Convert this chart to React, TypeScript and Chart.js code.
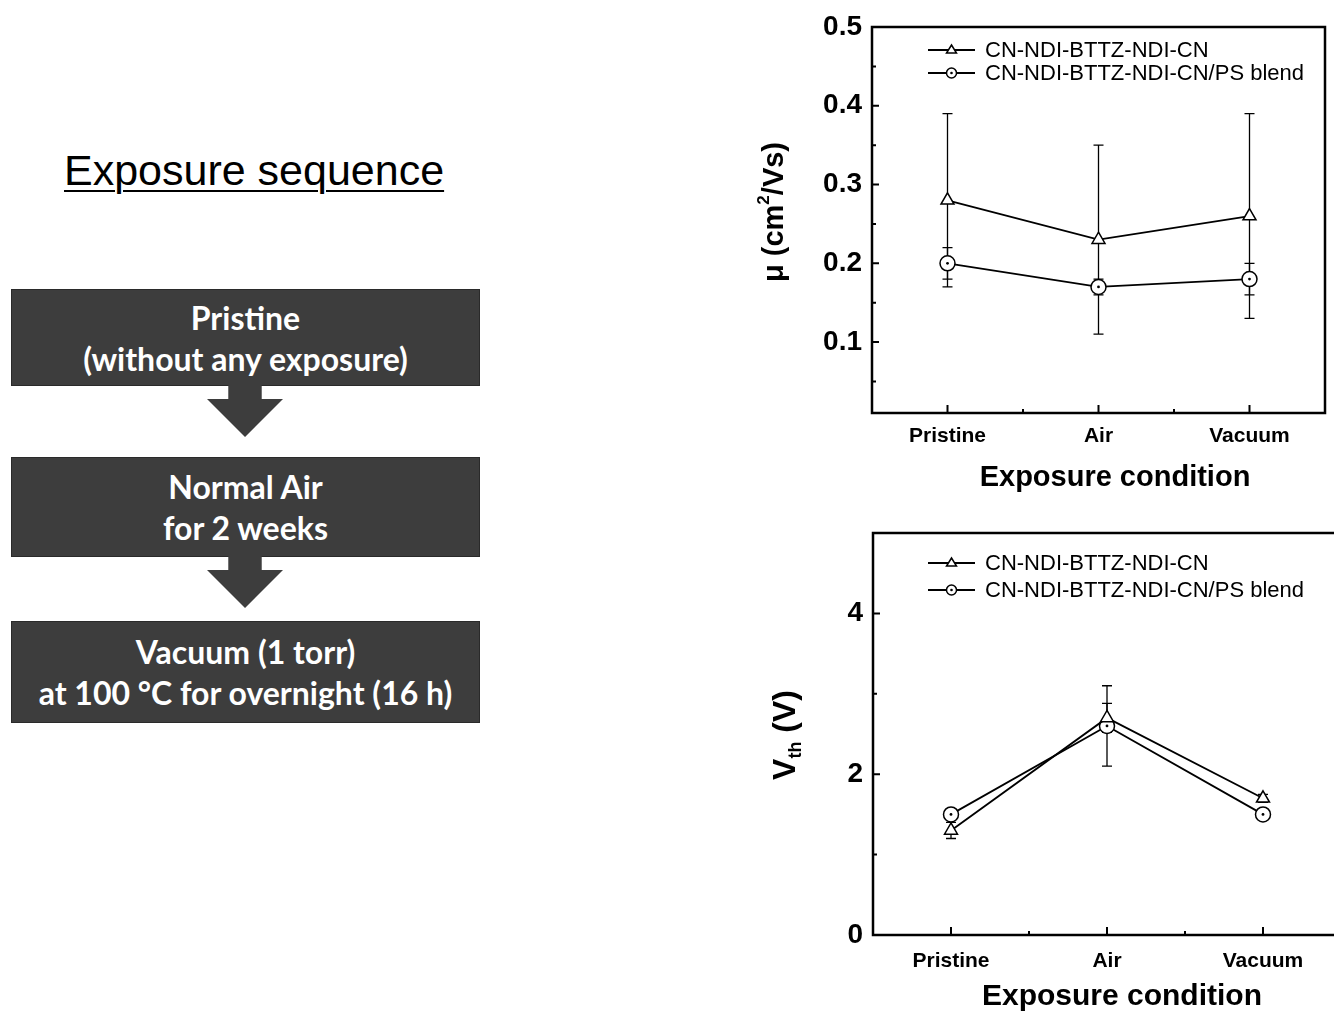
import React, { useEffect, useRef } from "react";
import { Chart, registerables } from "chart.js";
Chart.register(...registerables);

// ---------------- data ----------------
const categories = ["Pristine", "Air", "Vacuum"];
const seriesNames = ["CN-NDI-BTTZ-NDI-CN", "CN-NDI-BTTZ-NDI-CN/PS blend"];

const mobilityNeat = [0.28, 0.23, 0.26];
const mobilityNeatErr = [0.11, 0.12, 0.13];
const mobilityBlend = [0.2, 0.17, 0.18];
const mobilityBlendErr = [0.02, 0.01, 0.02];

const vthNeat = [1.3, 2.7, 1.7];
const vthNeatErr = [0.1, 0.18, 0.05];
const vthBlend = [1.5, 2.6, 1.5];
const vthBlendErr = [0.05, 0.5, 0.05];

const mobilityTicks = [0.1, 0.2, 0.3, 0.4, 0.5];
const mobilityMinorTicks = [0.05, 0.15, 0.25, 0.35, 0.45];
const vthTicks = [0, 2, 4];
const vthMinorTicks = [1, 3, 5];
const xMinorTicks = [0.5, 1.5];

const FONT = "'Liberation Sans', Arial, sans-serif";

type Run = { text: string; size: number; dy?: number };

function drawRuns(ctx: CanvasRenderingContext2D, runs: Run[], cx: number, cy: number, rotate: boolean) {
  ctx.save();
  ctx.translate(cx, cy);
  if (rotate) ctx.rotate(-Math.PI / 2);
  let total = 0;
  const widths = runs.map((r) => {
    ctx.font = `bold ${r.size}px ${FONT}`;
    const w = ctx.measureText(r.text).width;
    total += w;
    return w;
  });
  let x = -total / 2;
  ctx.fillStyle = "#000";
  ctx.textBaseline = "middle";
  ctx.textAlign = "left";
  runs.forEach((r, i) => {
    ctx.font = `bold ${r.size}px ${FONT}`;
    ctx.fillText(r.text, x, r.dy || 0);
    x += widths[i];
  });
  ctx.restore();
}

function drawMarker(ctx: CanvasRenderingContext2D, kind: string, x: number, y: number, r: number) {
  ctx.save();
  ctx.fillStyle = "#fff";
  ctx.strokeStyle = "#000";
  ctx.lineWidth = 1.5;
  ctx.beginPath();
  if (kind === "triangle") {
    const half = r * Math.sqrt(3) / 2;
    ctx.moveTo(x, y - r);
    ctx.lineTo(x + half * 1.15, y + r * 0.6);
    ctx.lineTo(x - half * 1.15, y + r * 0.6);
    ctx.closePath();
  } else {
    ctx.arc(x, y, r, 0, Math.PI * 2);
  }
  ctx.fill();
  ctx.stroke();
  if (kind === "circle") {
    ctx.fillStyle = "#000";
    ctx.beginPath();
    ctx.arc(x, y, 1.3, 0, Math.PI * 2);
    ctx.fill();
  }
  ctx.restore();
}

type PanelCfg = {
  width: number;
  height: number;
  padTop: number;
  padRight: number;
  yWidth: number;
  xHeight: number;
  yMin: number;
  yMax: number;
  yTicks: number[];
  yMinor: number[];
  yDecimals: number;
  neat: number[];
  neatErr: number[];
  blend: number[];
  blendErr: number[];
  yTitle: Run[];
  yTitleX: number;
  yTitleY: number;
  xTitleX: number;
  xTitleDy: number;
  xTitleSize: number;
  legendDy: number[];
  legendDx: number;
  tickFont: number;
  xTickPad: number;
};

function makeChart(canvas: HTMLCanvasElement, cfg: PanelCfg) {
  const decor = {
    id: "decor",
    beforeDatasetsDraw(chart: any) {
      const ctx: CanvasRenderingContext2D = chart.ctx;
      const xs = chart.scales.x;
      const ys = chart.scales.y;
      ctx.save();
      ctx.strokeStyle = "#000";
      ctx.lineWidth = 1.3;
      const cap = 5;
      const groups = [
        [cfg.neat, cfg.neatErr],
        [cfg.blend, cfg.blendErr],
      ];
      groups.forEach(([vals, errs]) => {
        vals.forEach((v, i) => {
          const px = xs.getPixelForValue(i);
          const top = ys.getPixelForValue(v + errs[i]);
          const bot = ys.getPixelForValue(v - errs[i]);
          ctx.beginPath();
          ctx.moveTo(px, top);
          ctx.lineTo(px, bot);
          ctx.moveTo(px - cap, top);
          ctx.lineTo(px + cap, top);
          ctx.moveTo(px - cap, bot);
          ctx.lineTo(px + cap, bot);
          ctx.stroke();
        });
      });
      ctx.restore();
    },
    afterDatasetsDraw(chart: any) {
      const ctx: CanvasRenderingContext2D = chart.ctx;
      const a = chart.chartArea;
      const xs = chart.scales.x;
      const ys = chart.scales.y;
      ctx.save();
      ctx.fillStyle = "#000";
      cfg.blend.forEach((v, i) => {
        ctx.beginPath();
        ctx.arc(xs.getPixelForValue(i), ys.getPixelForValue(v), 1.4, 0, Math.PI * 2);
        ctx.fill();
      });
      ctx.strokeStyle = "#000";
      ctx.lineWidth = 2.5;
      ctx.strokeRect(a.left, a.top, a.right - a.left, a.bottom - a.top);
      ctx.lineWidth = 2;
      ctx.beginPath();
      cfg.yTicks.forEach((t) => {
        const py = ys.getPixelForValue(t);
        ctx.moveTo(a.left, py);
        ctx.lineTo(a.left + 7, py);
      });
      cfg.yMinor.forEach((t) => {
        const py = ys.getPixelForValue(t);
        ctx.moveTo(a.left, py);
        ctx.lineTo(a.left + 4, py);
      });
      categories.forEach((_, i) => {
        const px = xs.getPixelForValue(i);
        ctx.moveTo(px, a.bottom);
        ctx.lineTo(px, a.bottom - 8);
      });
      xMinorTicks.forEach((t) => {
        const px = xs.getPixelForValue(t);
        ctx.moveTo(px, a.bottom);
        ctx.lineTo(px, a.bottom - 4);
      });
      ctx.stroke();
      const kinds = ["triangle", "circle"];
      seriesNames.forEach((name, k) => {
        const ly = a.top + cfg.legendDy[k];
        const lx = a.left + cfg.legendDx;
        ctx.lineWidth = 1.8;
        ctx.beginPath();
        ctx.moveTo(lx, ly);
        ctx.lineTo(lx + 47, ly);
        ctx.stroke();
        drawMarker(ctx, kinds[k], lx + 23.5, ly, 5);
        ctx.fillStyle = "#000";
        ctx.font = `22px ${FONT}`;
        ctx.textBaseline = "middle";
        ctx.textAlign = "left";
        ctx.fillText(name, lx + 57, ly + 1);
      });
      ctx.restore();
      drawRuns(ctx, cfg.yTitle, cfg.yTitleX, cfg.yTitleY, true);
      drawRuns(ctx, [{ text: "Exposure condition", size: cfg.xTitleSize }], cfg.xTitleX, a.bottom + cfg.xTitleDy, false);
    },
  };

  const toPts = (vals: number[]) => vals.map((v, i) => ({ x: i, y: v }));

  return new Chart(canvas, {
    type: "line",
    data: {
      datasets: [
        {
          label: seriesNames[0],
          data: toPts(cfg.neat),
          borderColor: "#000",
          borderWidth: 1.8,
          pointStyle: "triangle",
          pointRadius: 7.5,
          pointBackgroundColor: "#fff",
          pointBorderColor: "#000",
          pointBorderWidth: 1.5,
        },
        {
          label: seriesNames[1],
          data: toPts(cfg.blend),
          borderColor: "#000",
          borderWidth: 1.8,
          pointStyle: "circle",
          pointRadius: 7.5,
          pointBackgroundColor: "#fff",
          pointBorderColor: "#000",
          pointBorderWidth: 1.5,
        },
      ],
    },
    options: {
      animation: false,
      responsive: false,
      devicePixelRatio: 1,
      layout: { padding: { top: cfg.padTop, right: cfg.padRight, left: 0, bottom: 0 } },
      plugins: { legend: { display: false }, tooltip: { enabled: false } },
      scales: {
        x: {
          type: "linear",
          min: -0.5,
          max: 2.5,
          grid: { display: false, drawTicks: false },
          border: { display: false },
          afterBuildTicks: (s: any) => {
            s.ticks = categories.map((_, i) => ({ value: i }));
          },
          afterFit: (s: any) => {
            s.height = cfg.xHeight;
            s.paddingLeft = 0;
            s.paddingRight = 0;
          },
          ticks: {
            autoSkip: false,
            maxRotation: 0,
            padding: cfg.xTickPad,
            color: "#000",
            font: { family: FONT, size: 21, weight: "bold" },
            callback: (v: any) => categories[Math.round(Number(v))],
          },
        },
        y: {
          type: "linear",
          min: cfg.yMin,
          max: cfg.yMax,
          grid: { display: false, drawTicks: false },
          border: { display: false },
          afterBuildTicks: (s: any) => {
            s.ticks = cfg.yTicks.map((v) => ({ value: v }));
          },
          afterFit: (s: any) => {
            s.width = cfg.yWidth;
            s.paddingTop = 0;
            s.paddingBottom = 0;
          },
          ticks: {
            padding: 10,
            color: "#000",
            font: { family: FONT, size: cfg.tickFont, weight: "bold" },
            callback: (v: any) => Number(v).toFixed(cfg.yDecimals),
          },
        },
      },
    },
    plugins: [decor],
  } as any);
}

function Panel({ cfg, left, top }: { cfg: PanelCfg; left: number; top: number }) {
  const ref = useRef<HTMLCanvasElement>(null);
  useEffect(() => {
    if (!ref.current) return;
    const ch = makeChart(ref.current, cfg);
    return () => ch.destroy();
  }, []);
  return (
    <canvas
      ref={ref}
      width={cfg.width}
      height={cfg.height}
      style={{ position: "absolute", left, top, width: cfg.width, height: cfg.height }}
    />
  );
}

const topCfg: PanelCfg = {
  width: 584,
  height: 500,
  padTop: 27,
  padRight: 4,
  yWidth: 122,
  xHeight: 87,
  yMin: 0.01,
  yMax: 0.5,
  yTicks: mobilityTicks,
  yMinor: mobilityMinorTicks,
  yDecimals: 1,
  neat: mobilityNeat,
  neatErr: mobilityNeatErr,
  blend: mobilityBlend,
  blendErr: mobilityBlendErr,
  yTitle: [
    { text: "\u03bc (cm", size: 29 },
    { text: "2", size: 17, dy: -11 },
    { text: "/Vs)", size: 29 },
  ],
  yTitleX: 25,
  yTitleY: 212,
  xTitleX: 365,
  xTitleDy: 65,
  xTitleSize: 29,
  legendDy: [23, 46],
  legendDx: 56,
  tickFont: 28,
  xTickPad: 11,
};

const bottomCfg: PanelCfg = {
  width: 600,
  height: 496,
  padTop: 13,
  padRight: 5,
  yWidth: 123,
  xHeight: 81,
  yMin: 0,
  yMax: 5,
  yTicks: vthTicks,
  yMinor: vthMinorTicks,
  yDecimals: 0,
  neat: vthNeat,
  neatErr: vthNeatErr,
  blend: vthBlend,
  blendErr: vthBlendErr,
  yTitle: [
    { text: "V", size: 32 },
    { text: "th", size: 18, dy: 10 },
    { text: " (V)", size: 32 },
  ],
  yTitleX: 36,
  yTitleY: 215,
  xTitleX: 372,
  xTitleDy: 62,
  xTitleSize: 30,
  legendDy: [30, 57],
  legendDx: 55,
  tickFont: 28,
  xTickPad: 14,
};

const boxStyle: React.CSSProperties = {
  position: "absolute",
  left: 12,
  width: 467,
  background: "#3d3d3d",
  color: "#fff",
  fontFamily: "Lato, 'Open Sans', sans-serif",
  fontWeight: 700,
  fontSize: 32,
  lineHeight: "41px",
  textAlign: "center",
  display: "flex",
  flexDirection: "column",
  justifyContent: "center",
  boxShadow: "0 0 0 1px #2a2a2a",
  whiteSpace: "nowrap",
};

function Arrow({ top }: { top: number }) {
  return (
    <div
      style={{
        position: "absolute",
        left: 207,
        top,
        width: 76,
        height: 52,
        background: "#3d3d3d",
        clipPath: "polygon(28% 0, 72% 0, 72% 27%, 100% 27%, 50% 100%, 0 27%, 28% 27%)",
      }}
    />
  );
}

export default function App() {
  return (
    <div
      style={{
        position: "absolute",
        left: 0,
        top: 0,
        width: 1334,
        height: 1016,
        overflow: "hidden",
        background: "#fff",
      }}
    >
      <div
        style={{
          position: "absolute",
          left: 64,
          top: 149,
          fontFamily: FONT,
          fontSize: 43,
          lineHeight: "42px",
          textDecoration: "underline",
          textDecorationThickness: "2px",
          textUnderlineOffset: "5px",
          color: "#000",
          whiteSpace: "nowrap",
        }}
      >
        Exposure sequence
      </div>
      <div style={{ ...boxStyle, top: 290, height: 95 }}>
        <div>Pristine</div>
        <div>(without any exposure)</div>
      </div>
      <Arrow top={385} />
      <div style={{ ...boxStyle, top: 458, height: 98 }}>
        <div>Normal Air</div>
        <div>for 2 weeks</div>
      </div>
      <Arrow top={556} />
      <div style={{ ...boxStyle, top: 622, height: 100 }}>
        <div>Vacuum (1 torr)</div>
        <div>at 100 &deg;C for overnight (16 h)</div>
      </div>
      <Panel cfg={topCfg} left={750} top={0} />
      <Panel cfg={bottomCfg} left={750} top={520} />
    </div>
  );
}
